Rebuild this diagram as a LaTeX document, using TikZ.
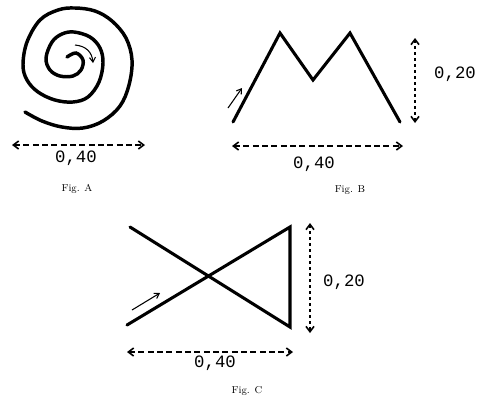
\documentclass[tikz,border=0pt]{standalone}
\usepackage{fontspec}
\newfontfamily\typefont{Liberation Mono}
\usetikzlibrary{arrows.meta}

\tikzset{every picture/.style={line width=0.75pt}}
\tikzset{
  figline/.style={line width=2.3pt, line cap=round, line join=miter},
  dimline/.style={line width=1.2pt, dash pattern={on 4.5pt off 2.5pt}, {Straight Barb[length=4pt,width=6pt]}-{Straight Barb[length=4pt,width=6pt]}},
  vdimline/.style={line width=1.2pt, dash pattern={on 2.5pt off 2pt}, {Straight Barb[length=4pt,width=6pt]}-{Straight Barb[length=4pt,width=6pt]}},
  runarrow/.style={line width=0.8pt, -{Straight Barb[length=3.5pt,width=4.5pt]}},
  dimtxt/.style={inner sep=0.75pt, font=\fontsize{13}{15}\typefont},
  figcap/.style={inner sep=0.75pt, font=\fontsize{7.5}{9}\selectfont}
}

\begin{document}
\begin{tikzpicture}[x=0.75pt,y=0.75pt,yscale=-1,xscale=1]
\useasboundingbox (0,0) rectangle (481,401);

%Shape: Spiral [Fig. A]
\draw [figline, line width=2.6pt] plot [smooth, tension=0.6] coordinates {(67,57) (76,53) (83,60) (81,70) (73,76) (60,76) (50,70) (46,58) (52,42) (62,34) (74,32) (90,37) (100,48) (103,63) (99,82) (88,97) (73,102) (55,100) (38,92) (27,80) (23,65) (27,42) (40,20) (58,10) (75,8) (95,11) (112,21) (126,38) (132,60) (129,85) (120,106) (103,121) (83,128) (62,127) (42,121) (25,112)};
%Curve Lines [turning arrow]
\draw [runarrow] (75,45) .. controls (86,46) and (92,52) .. (93,63) ;

%Shape: Zigzag [Fig. B]
\draw [figline] (233,122) -- (280,33) -- (313,80) -- (350,33) -- (400,122) ;
%Straight Lines [run arrow B]
\draw [runarrow] (228,108) -- (242,88) ;

%Shape: Bow [Fig. C]
\draw [figline] (130,227) -- (290,327) -- (290,227) -- (127,325) ;
%Straight Lines [run arrow C]
\draw [runarrow] (132,310) -- (160,293) ;

% dimension ends
\coordinate (dimAl) at (12,145);
\coordinate (dimAr) at (145,145);
\coordinate (dimBl) at (232,146);
\coordinate (dimBr) at (403,146);
\coordinate (dimBt) at (415,38);
\coordinate (dimBb) at (415,123);
\coordinate (dimCl) at (127,352);
\coordinate (dimCr) at (293,352);
\coordinate (dimCt) at (310,223);
\coordinate (dimCb) at (310,333);

%Straight Lines [dimensions]
\draw [dimline] (dimAl) -- (dimAr) ;
\draw [dimline] (dimBl) -- (dimBr) ;
\draw [vdimline] (dimBt) -- (dimBb) ;
\draw [dimline] (dimCl) -- (dimCr) ;
\draw [vdimline] (dimCt) -- (dimCb) ;

% Text Node
\draw (76,158) node (txtA) [dimtxt] {0,40};
% Text Node
\draw (77,189) node (capA) [figcap] {Fig. A};
% Text Node
\draw (314,164) node (txtBh) [dimtxt] {0,40};
% Text Node
\draw (455,74) node (txtBv) [dimtxt] {0,20};
% Text Node
\draw (350,190) node (capB) [figcap] {Fig. B};
% Text Node
\draw (215,363) node (txtCh) [dimtxt] {0,40};
% Text Node
\draw (344,282) node (txtCv) [dimtxt] {0,20};
% Text Node
\draw (247,391) node (capC) [figcap] {Fig. C};

\end{tikzpicture}
\end{document}
